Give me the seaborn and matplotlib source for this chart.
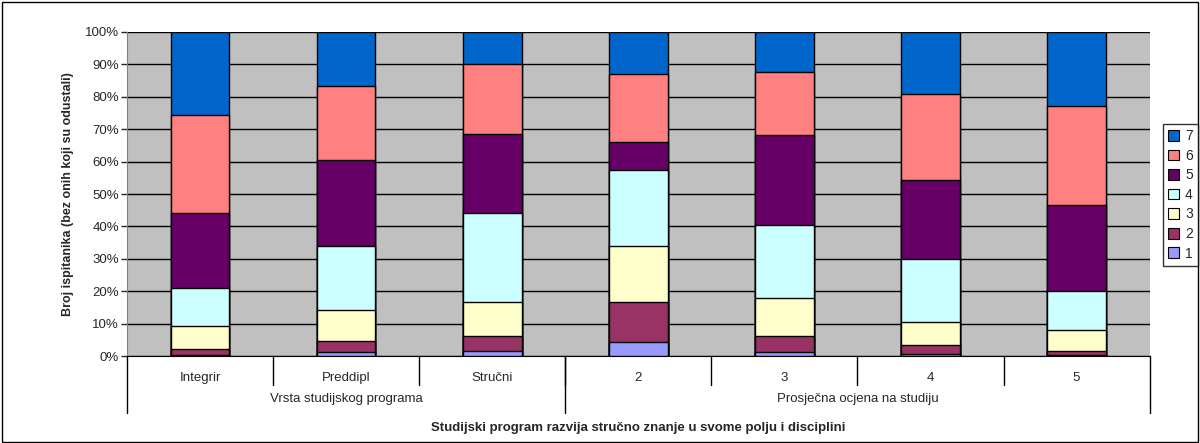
import numpy as np
import pandas as pd
import seaborn as sns
import matplotlib.pyplot as plt
from matplotlib.patches import Rectangle
from matplotlib.lines import Line2D

sns.set_style("white")
plt.rcParams['font.family'] = ['Liberation Sans', 'DejaVu Sans']

categories = ['Integrir', 'Preddipl', 'Stručni', '2', '3', '4', '5']
groups = ['Vrsta studijskog programa', 'Prosječna ocjena na studiju']
group_sizes = [3, 4]
levels = ['1', '2', '3', '4', '5', '6', '7']
# postotak odgovora po razini (1..7) za svaku kategoriju
s1 = [0.5, 1.2, 1.5, 4.3, 1.2, 0.8, 0.5]
s2 = [1.8, 3.4, 4.7, 12.5, 5.0, 2.5, 1.0]
s3 = [7.0, 9.7, 10.6, 17.2, 11.6, 7.2, 6.5]
s4 = [11.7, 19.7, 27.2, 23.5, 22.7, 19.5, 12.0]
s5 = [23.3, 26.5, 24.5, 8.5, 27.8, 24.3, 26.5]
s6 = [30.2, 22.8, 21.5, 21.0, 19.2, 26.5, 30.5]
s7 = [25.5, 16.7, 10.0, 13.0, 12.5, 19.2, 23.0]
colors = ['#9999FF', '#993366', '#FFFFCC', '#CCFFFF', '#660066', '#FF8080', '#0066CC']

series = np.array([s1, s2, s3, s4, s5, s6, s7])
series = series / series.sum(axis=0) * 100
cum = np.cumsum(series, axis=0)

fig = plt.figure(figsize=(12, 4.43), dpi=100)
ax = fig.add_axes([0.106, 0.196, 0.852, 0.732])
ax.set_facecolor('#C0C0C0')

# crtanje od najviseg kumulativa prema dolje
for i in range(6, -1, -1):
    df = pd.DataFrame({'cat': categories, 'val': cum[i]})
    sns.barplot(x='cat', y='val', data=df, color=colors[i], width=0.4,
                edgecolor='black', linewidth=1, saturation=1, ax=ax, zorder=3)

ax.set_ylim(0, 100)
ax.set_xlim(-0.5, 6.5)
ax.set_yticks(np.arange(0, 101, 10))
ax.set_yticklabels([f'{v}%' for v in range(0, 101, 10)], fontsize=9.5)
ax.yaxis.grid(True, color='black', linewidth=1)
ax.set_axisbelow(True)
ax.tick_params(axis='y', direction='out', length=4, width=1, left=True, pad=2)
ax.set_xticks([])
ax.set_xlabel('')
ax.set_ylabel('Broj ispitanika (bez onih koji su odustali)', fontsize=9,
              fontweight='bold', labelpad=8)
for side in ['top', 'right']:
    ax.spines[side].set_visible(False)
ax.spines['left'].set_color('#808080')
ax.spines['bottom'].set_color('black')

# oznake kategorija i grupa ispod osi
trans = ax.get_xaxis_transform()
for k, c in enumerate(categories):
    ax.text(k, -0.066, c, transform=trans, ha='center', va='center', fontsize=9.5)
for k in range(1, len(categories)):
    ax.add_line(Line2D([k - 0.5, k - 0.5], [0, -0.09], transform=trans,
                       color='black', linewidth=1, clip_on=False))
start = 0
edges = [-0.5]
for g, n in zip(groups, group_sizes):
    ax.text(start + (n - 1) / 2, -0.133, g, transform=trans, ha='center',
            va='center', fontsize=9.5)
    start += n
    edges.append(start - 0.5)
for e in edges:
    ax.add_line(Line2D([e, e], [0, -0.175], transform=trans,
                       color='black', linewidth=1, clip_on=False))
fig.text(0.532, 0.033, 'Studijski program razvija stručno znanje u svome polju i disciplini',
         ha='center', va='center', fontsize=9.5, fontweight='bold')

handles = [Rectangle((0, 0), 1, 1, facecolor=colors[i], edgecolor='black', linewidth=0.8)
           for i in range(6, -1, -1)]
leg = fig.legend(handles, levels[::-1], loc='center left', bbox_to_anchor=(0.969, 0.56),
                 fontsize=10, frameon=True, fancybox=False, edgecolor='black',
                 handlelength=0.8, handleheight=0.8, handletextpad=0.4,
                 borderpad=0.4, labelspacing=0.4, borderaxespad=0)
leg.get_frame().set_linewidth(1)

fig.patches.append(Rectangle((0.002, 0.002), 0.996, 0.994, transform=fig.transFigure,
                             fill=False, edgecolor='black', linewidth=1))

fig.savefig('out.png', dpi=100)
